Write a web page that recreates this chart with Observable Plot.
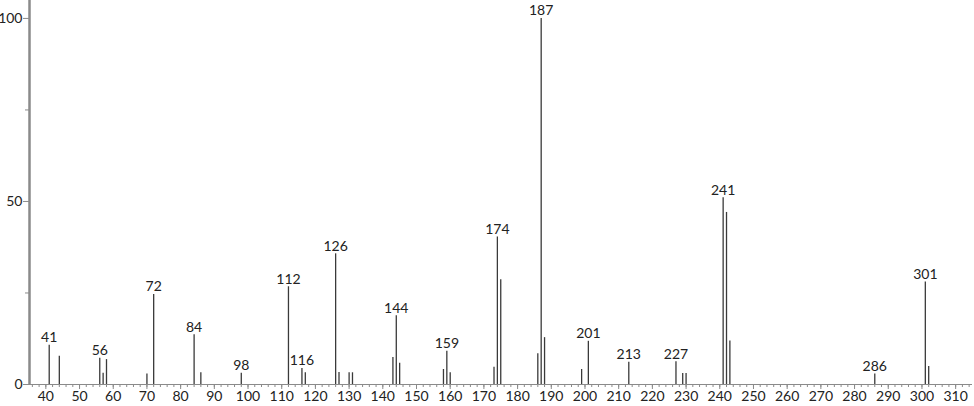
<!DOCTYPE html>
<html>
<head>
<meta charset="utf-8">
<script src="https://cdn.jsdelivr.net/npm/d3@7"></script>
<script src="https://cdn.jsdelivr.net/npm/@observablehq/plot@0.6"></script>
<style>
  html, body { margin: 0; padding: 0; background: #fff; }
  #chart svg { display: block; }
</style>
</head>
<body>
<div id="chart"></div>
<script>
const mz = [41, 44, 56, 57, 58, 70, 72, 84, 86, 98, 112, 116, 117, 126, 127, 130, 131,
  143, 144, 145, 158, 159, 160, 173, 174, 175, 186, 187, 188, 199, 201, 213,
  227, 229, 230, 241, 242, 243, 286, 301, 302];
const intensity = [10.7, 7.7, 7.2, 3.1, 6.8, 2.9, 24.6, 13.6, 3.2, 3.1, 26.7, 4.4, 3.2, 35.7, 3.3, 3.2, 3.2,
  7.4, 18.8, 5.8, 4.1, 9.1, 3.2, 4.7, 40.3, 28.6, 8.4, 100, 12.8, 4.1, 11.8, 6.1,
  6.2, 3.0, 3.0, 51.0, 47.0, 11.9, 2.9, 28.0, 4.9];
const labeledPeaks = [41, 56, 72, 84, 98, 112, 116, 126, 144, 159, 174, 187, 201, 213, 227, 241, 286, 301];
const xTickValues = d3.range(40, 311, 10);
const xMinorTicks = d3.range(36, 315, 2);
const yTickValues = [0, 50, 100];
const yMinorTicks = [25, 75];

const peaks = mz.map((m, i) => ({mz: m, value: intensity[i]}));
const labels = peaks.filter(d => labeledPeaks.includes(d.mz));

const font = "Lato, 'DejaVu Sans', sans-serif";
const axisColor = "#8a8a8a";

const chart = Plot.plot({
  width: 974,
  height: 406,
  marginLeft: 29,
  marginRight: 2,
  marginTop: 0,
  marginBottom: 22,
  style: {fontFamily: font, fontSize: "14px", color: "#222", background: "#fff"},
  x: {domain: [35.15, 315], axis: null},
  y: {domain: [0, 104.9], axis: null},
  marks: [
    Plot.axisX(xMinorTicks, {tickSize: 3, tickFormat: () => "", label: null, stroke: axisColor, strokeWidth: 1}),
    Plot.axisX(xTickValues, {tickSize: 5, tickPadding: 2, label: null, stroke: axisColor, fill: "#222", fontSize: 14, tickFormat: d => String(d)}),
    Plot.axisY(yMinorTicks, {tickSize: 4, tickFormat: () => "", label: null, stroke: axisColor}),
    Plot.axisY(yTickValues, {tickSize: 6, tickPadding: 1, label: null, stroke: axisColor, fill: "#222", fontSize: 14, tickFormat: d => String(d)}),
    Plot.ruleY([0], {stroke: axisColor, strokeWidth: 1.2}),
    Plot.ruleX([35.15], {stroke: axisColor, strokeWidth: 2.5}),
    Plot.ruleX(peaks, {x: "mz", y1: 0, y2: "value", stroke: "#3a3a3a", strokeWidth: 1.3}),
    Plot.text(labels, {x: "mz", y: "value", text: d => String(d.mz), lineAnchor: "bottom", dy: -3, fill: "#222", fontSize: 14})
  ]
});
document.getElementById("chart").appendChild(chart);
</script>
</body>
</html>
